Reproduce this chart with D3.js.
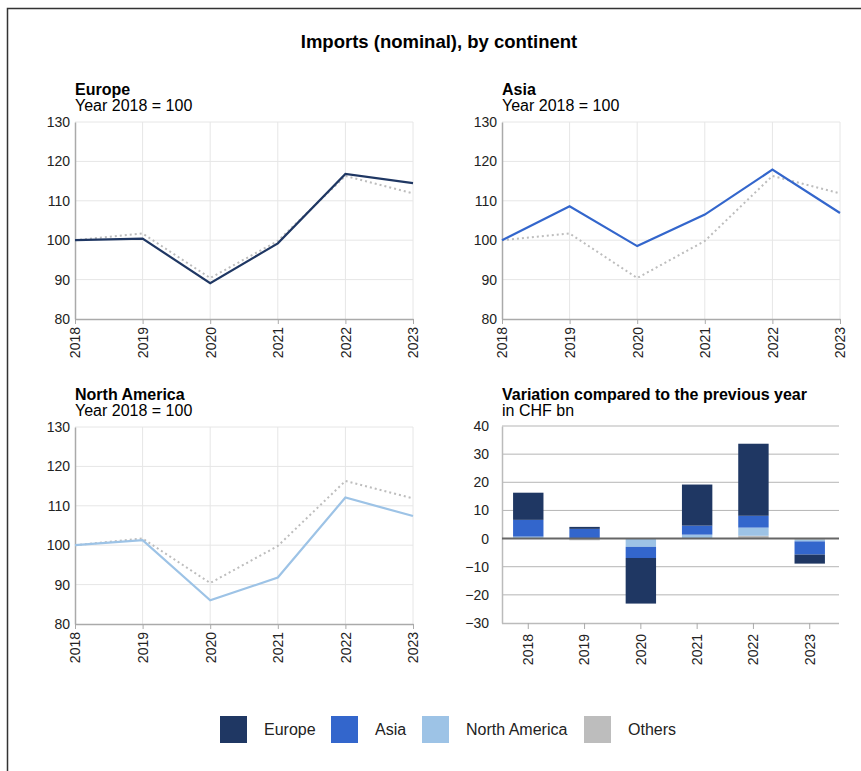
<!DOCTYPE html>
<html><head><meta charset="utf-8">
<script src="https://cdn.jsdelivr.net/npm/d3@7/dist/d3.min.js"></script>
<style>
body{margin:0;background:#fff;}
svg{display:block;font-family:"Liberation Sans",Arial,sans-serif;}
</style></head>
<body><svg id="c" width="861" height="771"></svg>
<script>
const years = ["2018","2019","2020","2021","2022","2023"];
const europeIdx = [100, 100.4, 89.1, 99.2, 116.8, 114.5];
const asiaIdx   = [100, 108.6, 98.5, 106.5, 117.9, 106.9];
const naIdx     = [100, 101.3, 86.0, 91.8, 112.1, 107.4];
const othersIdx = [100, 101.7, 90.4, 99.8, 116.3, 111.9];
const idxTicks = [80, 90, 100, 110, 120, 130];

const seriesNames = ["Europe", "Asia", "North America", "Others"];
const seriesColors = ["#1f3763", "#3366cc", "#9dc3e6", "#bdbdbd"];
const varEurope = [9.65, 0.7, -16.2, 14.6, 25.6, -3.2];
const varAsia   = [5.95, 3.45, -3.95, 3.2, 4.2, -4.7];
const varNA     = [0.6, 0, -2.95, 1.2, 2.9, -0.6];
const varOthers = [0.1, -0.6, 0, 0.2, 1.0, -0.4];
const varTicks = [-30, -20, -10, 0, 10, 20, 30, 40];

const svg = d3.select("#c");
// frame
svg.append("path").attr("d","M7.5,771 L7.5,8.5 L861,8.5").attr("fill","none").attr("stroke","#333").attr("stroke-width",1.5);

svg.append("text").attr("x",439).attr("y",48).attr("text-anchor","middle")
  .attr("font-size",18.5).attr("font-weight","bold").attr("fill","#000").text("Imports (nominal), by continent");

function header(x, y, title, sub){
  svg.append("text").attr("x",x).attr("y",y).attr("font-size",16).attr("font-weight","bold").attr("fill","#000").text(title);
  svg.append("text").attr("x",x).attr("y",y+16).attr("font-size",16).attr("fill","#000").text(sub);
}

function linePanel(box, title, values, color){
  header(box.x0, box.y0-27, title, "Year 2018 = 100");
  const x = d3.scalePoint().domain(years).range([box.x0, box.x1]);
  const y = d3.scaleLinear().domain([80,130]).range([box.y1, box.y0]);
  const g = svg.append("g");
  // grid
  g.append("g").selectAll("line").data(idxTicks.filter(t=>t>80)).join("line")
    .attr("x1",box.x0).attr("x2",box.x1).attr("y1",d=>y(d)).attr("y2",d=>y(d))
    .attr("stroke","#e6e6e6").attr("stroke-width",1);
  g.append("g").selectAll("line").data(years.slice(1)).join("line")
    .attr("x1",d=>x(d)).attr("x2",d=>x(d)).attr("y1",box.y0).attr("y2",box.y1)
    .attr("stroke","#e6e6e6").attr("stroke-width",1);
  // y axis
  const ya = g.append("g").attr("transform",`translate(${box.x0},0)`)
    .call(d3.axisLeft(y).tickValues(idxTicks).tickSize(0).tickPadding(5));
  ya.select(".domain").attr("stroke","#aaa").attr("stroke-width",1.5);
  ya.selectAll("text").attr("font-size",14).attr("fill","#222").attr("font-family","Liberation Sans, Arial, sans-serif");
  // x axis
  const xa = g.append("g").attr("transform",`translate(0,${box.y1})`)
    .call(d3.axisBottom(x).tickSize(5).tickSizeOuter(0));
  xa.select(".domain").attr("stroke","#aaa").attr("stroke-width",1.5);
  xa.selectAll(".tick line").attr("stroke","#aaa");
  xa.selectAll("text").attr("font-size",14).attr("fill","#222").attr("font-family","Liberation Sans, Arial, sans-serif")
    .attr("transform","rotate(-90)").attr("text-anchor","end").attr("dy","0.35em").attr("x",-8).attr("y",0);
  const line = d3.line().x((d,i)=>x(years[i])).y(d=>y(d));
  g.append("path").attr("d",line(othersIdx)).attr("fill","none").attr("stroke","#bdbdbd")
    .attr("stroke-width",2).attr("stroke-dasharray","2,3");
  g.append("path").attr("d",line(values)).attr("fill","none").attr("stroke",color).attr("stroke-width",2.2);
}

linePanel({x0:75,x1:413,y0:122,y1:319}, "Europe", europeIdx, seriesColors[0]);
linePanel({x0:502,x1:840,y0:122,y1:319}, "Asia", asiaIdx, seriesColors[1]);
linePanel({x0:75,x1:413,y0:427,y1:624}, "North America", naIdx, seriesColors[2]);

// bar chart
(function(){
  const box = {x0:502,x1:839,y0:426,y1:623};
  header(box.x0, box.y0-26, "Variation compared to the previous year", "in CHF bn");
  const x = d3.scaleBand().domain(years).range([box.x0-3, box.x1]).paddingInner(0.46).paddingOuter(0.25);
  const y = d3.scaleLinear().domain([-30,40]).range([box.y1, box.y0]);
  const g = svg.append("g");
  g.append("g").selectAll("line").data(varTicks.filter(t=>t!==0 && t!==-30)).join("line")
    .attr("x1",box.x0).attr("x2",box.x1).attr("y1",d=>y(d)).attr("y2",d=>y(d))
    .attr("stroke","#b5b5b5").attr("stroke-width",1);
  const ya = g.append("g").attr("transform",`translate(${box.x0},0)`)
    .call(d3.axisLeft(y).tickValues(varTicks).tickSize(0).tickPadding(13).tickFormat(d3.format("d")));
  ya.select(".domain").attr("stroke","#bbb").attr("stroke-width",1.5);
  ya.selectAll("text").attr("font-size",14).attr("fill","#222").attr("font-family","Liberation Sans, Arial, sans-serif")
    .text(d=> d<0 ? "\u2212"+Math.abs(d) : d);
  const xa = g.append("g").attr("transform",`translate(0,${box.y1})`)
    .call(d3.axisBottom(x).tickSize(6).tickSizeOuter(0));
  xa.select(".domain").attr("stroke","#bbb").attr("stroke-width",1.5).attr("d",`M${box.x0},0.5H${box.x1}`);
  xa.selectAll(".tick line").attr("stroke","#aaa");
  xa.selectAll("text").attr("font-size",14).attr("fill","#222").attr("font-family","Liberation Sans, Arial, sans-serif")
    .attr("transform","rotate(-90)").attr("text-anchor","end").attr("dy","0.35em").attr("x",-11).attr("y",0);

  const order = [varOthers, varNA, varAsia, varEurope];
  const colors = [seriesColors[3], seriesColors[2], seriesColors[1], seriesColors[0]];
  years.forEach((yr,i)=>{
    let pos = 0, neg = 0;
    order.forEach((arr,k)=>{
      const v = arr[i];
      if (v === 0) return;
      let a, b;
      if (v > 0){ a = pos; b = pos + v; pos = b; } else { a = neg; b = neg + v; neg = b; }
      g.append("rect").attr("x",x(yr)).attr("width",x.bandwidth())
        .attr("y",y(Math.max(a,b))).attr("height",Math.abs(y(a)-y(b)))
        .attr("fill",colors[k]);
    });
  });
  g.append("line").attr("x1",box.x0).attr("x2",box.x1).attr("y1",y(0)).attr("y2",y(0))
    .attr("stroke","#666").attr("stroke-width",2);
})();

// legend
const legX = [220, 331, 422, 584];
const leg = svg.append("g");
seriesNames.forEach((n,i)=>{
  leg.append("rect").attr("x",legX[i]).attr("y",716).attr("width",27).attr("height",27).attr("fill",seriesColors[i]);
  leg.append("text").attr("x",legX[i]+44).attr("y",735).attr("font-size",16).attr("fill","#222").text(n);
});
</script></body></html>
